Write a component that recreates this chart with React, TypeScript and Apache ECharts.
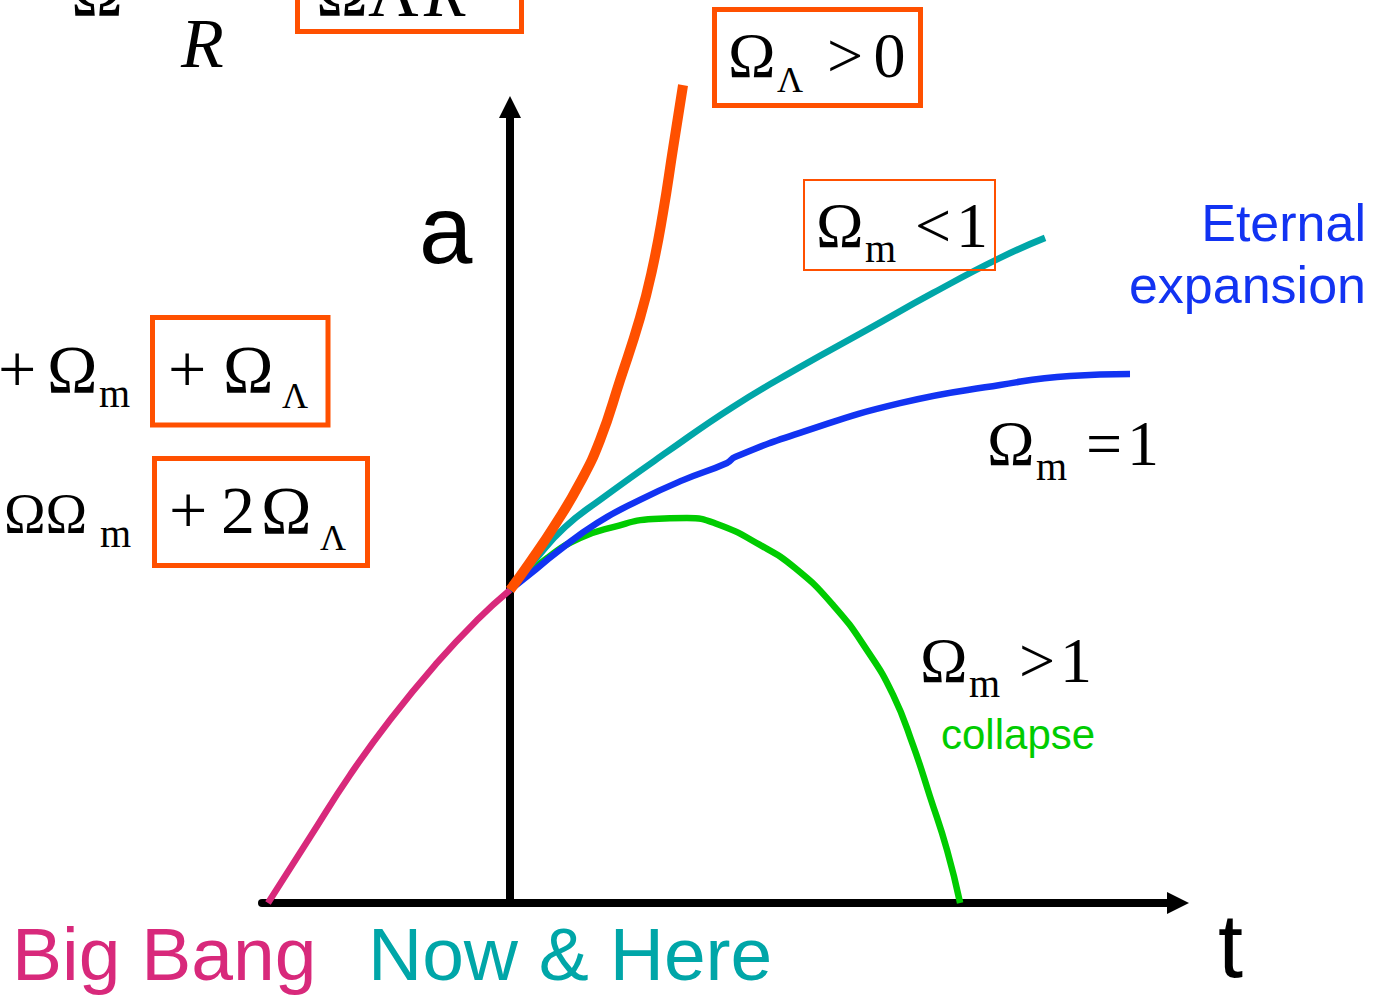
import React, { useEffect, useRef } from "react";
import * as echarts from "echarts";

// t: time (Now = 0, Big Bang = -1), a: scale factor (today = 1)
const bigBang: [number, number][] = [
  [-1.0, 0], [-0.826, 0.211], [-0.661, 0.409], [-0.496, 0.585],
  [-0.302, 0.767], [-0.136, 0.904], [0, 1],
];
const lambdaPositive: [number, number][] = [
  [0, 1.0], [0.083, 1.089], [0.186, 1.208], [0.289, 1.342], [0.372, 1.479],
  [0.455, 1.671], [0.537, 1.869], [0.587, 2.022], [0.632, 2.204], [0.674, 2.412], [0.715, 2.613],
];
const openUniverse: [number, number][] = [
  [0, 1], [0.103, 1.096], [0.227, 1.201], [0.372, 1.288], [0.649, 1.441], [0.921, 1.585],
  [1.198, 1.712], [1.475, 1.831], [1.748, 1.949], [2.025, 2.061], [2.211, 2.125],
];
const flatUniverse: [number, number][] = [
  [0, 1], [0.083, 1.051], [0.194, 1.121], [0.36, 1.214], [0.537, 1.288], [0.715, 1.351],
  [0.897, 1.406], [0.93, 1.425], [1.198, 1.502], [1.612, 1.597], [2.025, 1.655], [2.314, 1.684], [2.562, 1.69],
];
const closedUniverse: [number, number][] = [
  [0, 1], [0.153, 1.102], [0.289, 1.166], [0.426, 1.201], [0.591, 1.227], [0.731, 1.23],
  [0.855, 1.211], [1.033, 1.144], [1.178, 1.07], [1.335, 0.952], [1.475, 0.808], [1.583, 0.665],
  [1.665, 0.505], [1.736, 0.339], [1.806, 0.169], [1.86, 0],
];

const tMin = -1.0248;
const tMax = 2.7603;
const aMin = 0;
const aMax = 2.5431;

const MAGENTA = "#D8297B";
const TEAL = "#00A6A8";
const BLUE = "#1233F2";
const GREEN = "#00CC00";
const ORANGE = "#FF5000";

const SANS = "'Liberation Sans', Arial, sans-serif";
const SERIF = "'Liberation Serif', 'Times New Roman', serif";

function txt(text: string, x: number, baseline: number, fs: number, fill: string, family: string, opts: any = {}) {
  const k = family === SANS ? 0.3465 : 0.3375;
  return {
    type: "text",
    x,
    y: baseline - k * fs,
    z: 10,
    style: {
      text,
      fill,
      fontSize: fs,
      fontFamily: family,
      fontStyle: opts.italic ? "italic" : "normal",
      align: opts.align || "left",
      verticalAlign: "middle",
    },
  };
}

function omegaLabel(L: number, B: number, sub: string, op: string, val: string) {
  const subFs = sub === "Λ" ? 36 : 40;
  return [
    txt("Ω", L - 1, B, 64, "#000", SERIF),
    txt(sub, L + 48, B + 15, subFs, "#000", SERIF),
    txt(op, L + 98, B, 64, "#000", SERIF),
    txt(val, L + 146 - (val === "1" ? 7 : 1.5), B, 64, "#000", SERIF),
  ];
}

function box(x1: number, y1: number, x2: number, y2: number, lw: number) {
  return {
    type: "rect",
    z: 9,
    shape: { x: x1, y: y1, width: x2 - x1, height: y2 - y1 },
    style: { fill: "none", stroke: ORANGE, lineWidth: lw },
  };
}

function line(name: string, data: [number, number][], color: string, width: number, z: number) {
  return {
    name,
    type: "line",
    data,
    symbol: "none",
    smooth: 0.5,
    clip: false,
    z,
    lineStyle: { color, width, cap: "butt" },
  };
}

const arrowSymbol = "path://M5,0L10,10L0,10Z";

export default function App() {
  const ref = useRef<HTMLDivElement>(null);
  useEffect(() => {
    document.body.style.margin = "0";
    const chart = echarts.init(ref.current!, null, { renderer: "svg" });
    const axisCommon = {
      type: "value",
      axisLabel: { show: false },
      axisTick: { show: false },
      splitLine: { show: false },
      axisLine: {
        show: true,
        onZero: true,
        symbol: ["none", arrowSymbol],
        symbolSize: [22, 24],
        lineStyle: { color: "#000", width: 8 },
      },
    };
    chart.setOption({
      animation: false,
      backgroundColor: "#fff",
      grid: { left: 262, right: 211, top: 107, bottom: 94 },
      xAxis: { ...axisCommon, min: tMin, max: tMax },
      yAxis: { ...axisCommon, min: aMin, max: aMax },
      series: [
        line("Big Bang", bigBang, MAGENTA, 6.5, 2),
        line("Ωm > 1", closedUniverse, GREEN, 6.5, 3),
        line("Ωm = 1", flatUniverse, BLUE, 6.5, 4),
        line("Ωm < 1", openUniverse, TEAL, 6.5, 5),
        line("ΩΛ > 0", lambdaPositive, ORANGE, 10, 6),
      ],
      graphic: [
        // axis titles
        txt("a", 419, 263, 96, "#000", SANS),
        txt("t", 1218, 977, 90, "#000", SANS),
        // bottom labels
        txt("Big Bang", 12, 980, 75, MAGENTA, SANS),
        txt("Now & Here", 368, 980, 75, TEAL, SANS),
        // right labels
        txt("Eternal", 1366, 241, 52, BLUE, SANS, { align: "right" }),
        txt("expansion", 1366, 303, 52, BLUE, SANS, { align: "right" }),
        txt("collapse", 941, 749, 42, GREEN, SANS),
        // curve labels
        box(714.5, 9.5, 920.5, 105.5, 5),
        ...omegaLabel(729, 77, "Λ", ">", "0"),
        box(804, 180, 995, 270, 2),
        ...omegaLabel(817, 247, "m", "<", "1"),
        ...omegaLabel(988, 465, "m", "=", "1"),
        ...omegaLabel(921, 682, "m", ">", "1"),
        // top formula (cut off)
        txt("Ω", 71, 16, 70, "#000", SERIF),
        txt("R", 181, 67, 70, "#000", SERIF, { italic: true }),
        box(297.5, -40, 521.5, 31.5, 5),
        txt("ΩΛ", 316, 16, 70, "#000", SERIF),
        txt("R", 424, 16, 70, "#000", SERIF, { italic: true }),
        // left formula row 1
        txt("+", -2, 392, 68, "#000", SERIF),
        txt("Ω", 47, 392, 68, "#000", SERIF),
        txt("m", 99, 407, 40, "#000", SERIF),
        box(152.5, 317.5, 328, 425, 5),
        txt("+", 168, 392, 68, "#000", SERIF),
        txt("Ω", 223, 392, 68, "#000", SERIF),
        txt("Λ", 282, 408, 36, "#000", SERIF),
        // left formula row 2
        txt("ΩΩ", 4, 533, 56, "#000", SERIF),
        txt("m", 100, 547, 40, "#000", SERIF),
        box(154.5, 458.5, 367.5, 565.5, 5),
        txt("+", 169, 533, 68, "#000", SERIF),
        txt("2", 221, 533, 68, "#000", SERIF),
        txt("Ω", 261, 533, 68, "#000", SERIF),
        txt("Λ", 320, 550, 36, "#000", SERIF),
      ],
    });
    return () => chart.dispose();
  }, []);
  return <div ref={ref} style={{ position: "fixed", left: 0, top: 0, width: 1389, height: 997 }} />;
}
